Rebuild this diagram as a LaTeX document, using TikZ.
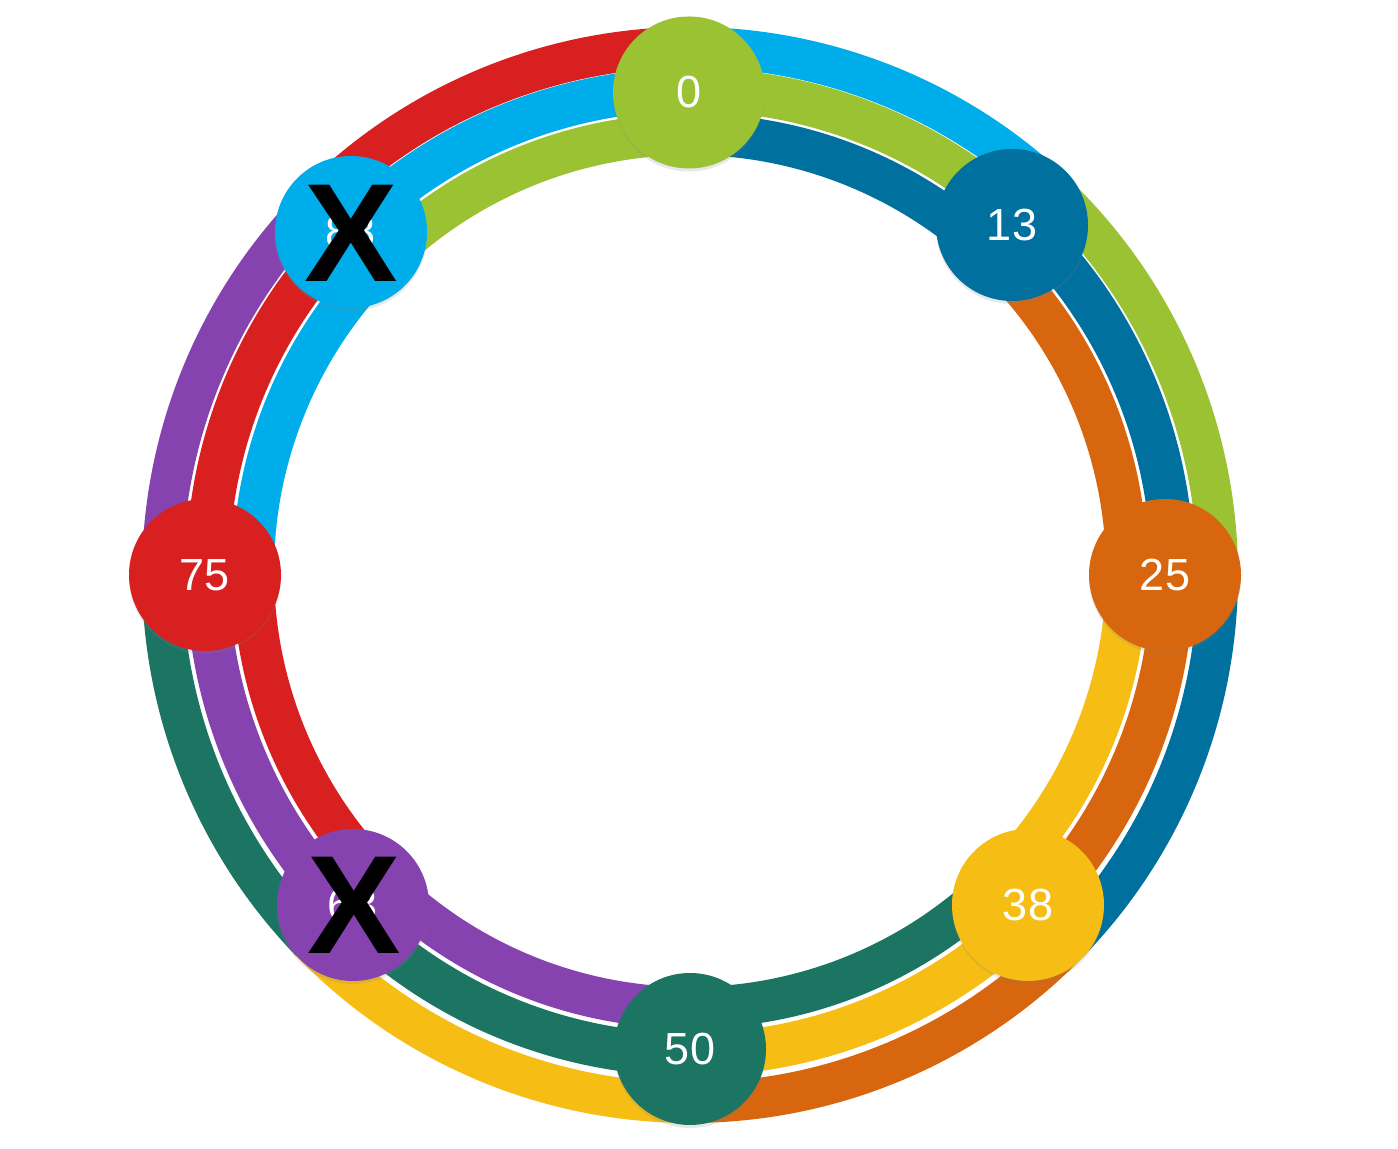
\documentclass[tikz,border=0pt]{standalone}
\usepackage{fontspec}
\setmainfont{Liberation Sans}
\usetikzlibrary{shadows}
\definecolor{cgreen}{HTML}{9BC232}
\definecolor{cdblue}{HTML}{00709E}
\definecolor{corange}{HTML}{D8660F}
\definecolor{cyellow}{HTML}{F6BE14}
\definecolor{cteal}{HTML}{1C7563}
\definecolor{cpurple}{HTML}{8643B0}
\definecolor{cred}{HTML}{D7201F}
\definecolor{clblue}{HTML}{00ADEB}
\begin{document}
\begin{tikzpicture}[x=0.5pt,y=0.5pt,
  ringnode/.style={circle, minimum size=76pt, inner sep=0pt, text=white,
    font=\fontsize{22.5}{26}\selectfont,
    drop shadow={shadow xshift=0pt, shadow yshift=-1.5pt, opacity=0.18}},
  xmark/.style={inner sep=0pt, text=black, font=\fontsize{70}{80}\selectfont\bfseries},
  outerband/.style={line width=20.25pt, line cap=butt},
  middleband/.style={line width=21.5pt, line cap=butt},
  innerband/.style={line width=20.75pt, line cap=butt}]
\fill[white] (0,0) rectangle (1398,1149);
\useasboundingbox (0,0) rectangle (1398,1149);
% bands: start/end/outer/middle/inner
\foreach \s/\e/\co/\cm/\ci in {
  90/47/clblue/cgreen/cdblue,
  47/0/cgreen/cdblue/corange,
  0/-44/cdblue/corange/cyellow,
  -44/-90/corange/cyellow/cteal,
  -90/-136/cyellow/cteal/cpurple,
  -136/-180/cteal/cpurple/cred,
  -180/-225/cpurple/cred/clblue,
  -225/-270/cred/clblue/cgreen}{
  \draw[outerband, draw=\co] ([shift={(690,574)}]\s:263.875pt) arc[start angle=\s, end angle=\e, radius=263.875pt];
  \draw[middleband, draw=\cm] ([shift={(690,577)}]\s:241.25pt) arc[start angle=\s, end angle=\e, radius=241.25pt];
  \draw[innerband, draw=\ci] ([shift={(690,578)}]\s:218.375pt) arc[start angle=\s, end angle=\e, radius=218.375pt];
}
% nodes
\node[ringnode, fill=cgreen]  (n0)  at (689,1056.5) {0};
\node[ringnode, fill=cdblue]  (n13) at (1012,924) {13};
\node[ringnode, fill=corange] (n25) at (1165,574) {25};
\node[ringnode, fill=cyellow] (n38) at (1028,244) {38};
\node[ringnode, fill=cteal]   (n50) at (690,100) {50};
\node[ringnode, fill=cpurple] (n63) at (353,244) {63};
\node[ringnode, fill=cred]    (n75) at (205,574) {75};
\node[ringnode, fill=clblue]  (n88) at (351,917) {88};
% crosses
\node[xmark] (x88) at (351.5,916) {X};
\node[xmark] (x63) at (354,244) {X};
\end{tikzpicture}
\end{document}
